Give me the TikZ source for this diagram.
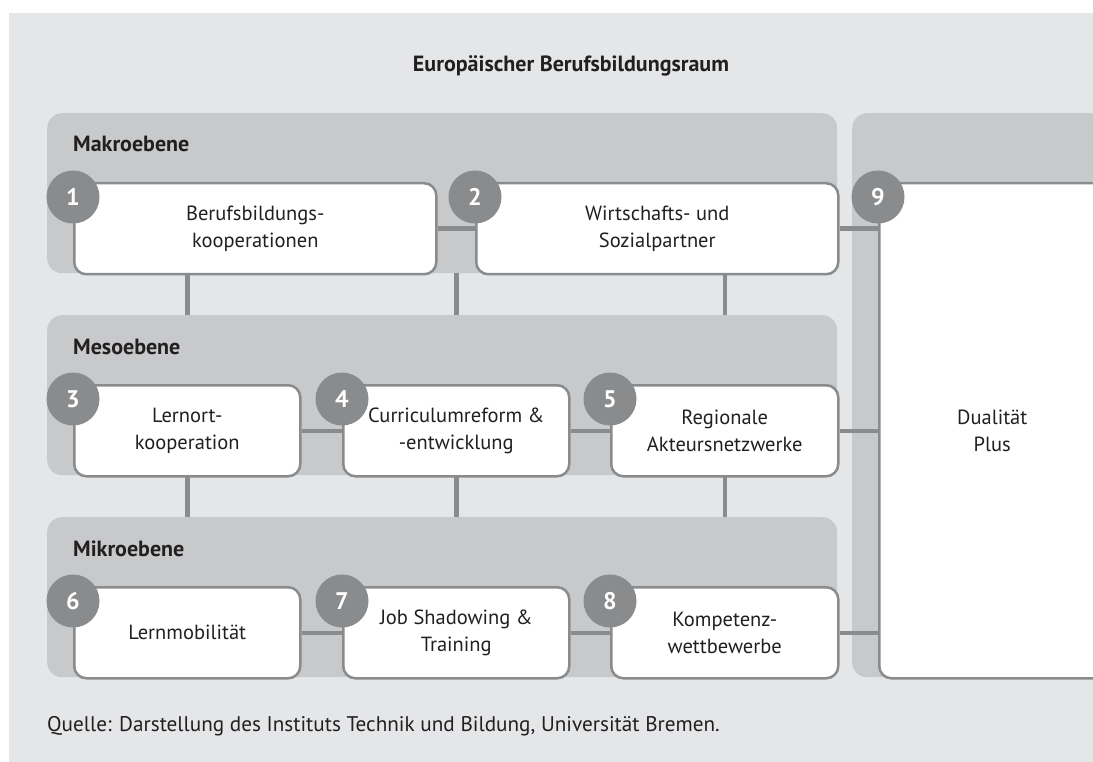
\documentclass[tikz,border=0pt]{standalone}
\usepackage{fontspec}
\setmainfont{PT Sans}
\usepackage{xcolor}
\usepackage{tikz}

\definecolor{panelgray}{HTML}{E5E6E7}
\definecolor{bandgray}{HTML}{C8C9CB}
\definecolor{linegray}{HTML}{8A8B8D}
\definecolor{textblack}{HTML}{231F20}

\begin{document}
\begin{tikzpicture}[x=1pt, y=-1pt,
    band/.style={rectangle, fill=bandgray, rounded corners=15pt, anchor=north west, minimum height=160pt},
    stepbox/.style={rectangle, draw=linegray, line width=2.5pt, fill=white, rounded corners=12pt, anchor=north west, minimum height=91pt, align=center, text=textblack, font=\fontsize{20.5}{27}\selectfont},
    num/.style={circle, fill=linegray, minimum size=53pt, inner sep=0pt, text=white, font=\bfseries\fontsize{24}{24}\selectfont},
    level/.style={anchor=base west, inner sep=0pt, text=textblack, font=\bfseries\fontsize{22}{22}\selectfont},
    link/.style={linegray, line width=4.5pt}]
    \useasboundingbox (0,0) rectangle (1093,762);
    \clip (0,0) rectangle (1093,762);
    \fill[panelgray] (9,13) rectangle (1093,762);

    \node[level, anchor=base] (title) at (571,72) {Europäischer Berufsbildungsraum};

    \node[band, minimum width=790pt] (makro) at (47,113) {};
    \node[band, minimum width=790pt] (meso) at (47,315) {};
    \node[band, minimum width=790pt] (mikro) at (47,517) {};
    \node[band, minimum width=252pt, minimum height=564pt] (dual) at (852,113) {};

    \node[level] (makrolabel) at (73,152) {Makroebene};
    \node[level] (mesolabel) at (73,354) {Mesoebene};
    \node[level] (mikrolabel) at (73,556) {Mikroebene};

    \node[stepbox, minimum width=362pt] (b1) at (73,182) {Berufsbildungs-\\kooperationen};
    \node[stepbox, minimum width=362pt] (b2) at (475,182) {Wirtschafts- und\\Sozialpartner};
    \node[stepbox, minimum width=226pt] (b3) at (73,384) {Lernort-\\kooperation};
    \node[stepbox, minimum width=226pt] (b4) at (342,384) {Curriculumreform \&\\-entwicklung};
    \node[stepbox, minimum width=227pt] (b5) at (610,384) {Regionale\\Akteursnetzwerke};
    \node[stepbox, minimum width=226pt] (b6) at (73,586) {Lernmobilität};
    \node[stepbox, minimum width=226pt] (b7) at (342,586) {Job Shadowing \&\\Training};
    \node[stepbox, minimum width=227pt] (b8) at (610,586) {Kompetenz-\\wettbewerbe};
    \node[stepbox, minimum width=226pt, minimum height=495pt] (b9) at (878,182) {Dualität\\Plus};

    \draw[link] (b1.east) -- (b2.west);
    \draw[link] (b2.east) -- (b2.east -| b9.west);
    \draw[link] (b3.east) -- (b4.west);
    \draw[link] (b4.east) -- (b5.west);
    \draw[link] (b5.east) -- (b5.east -| b9.west);
    \draw[link] (b6.east) -- (b7.west);
    \draw[link] (b7.east) -- (b8.west);
    \draw[link] (b8.east) -- (b8.east -| b9.west);

    \foreach \b in {b3, b4, b5} {
        \draw[link] (\b |- makro.south) -- (\b |- meso.north);
    }
    \foreach \b in {b6, b7, b8} {
        \draw[link] (\b |- meso.south) -- (\b |- mikro.north);
    }

    \foreach \i in {1,...,9} {
        \node[num] (n\i) at ([yshift=-15pt]b\i.north west) {\i};
    }

    \node[anchor=base west, inner sep=0pt, text=textblack, font=\fontsize{21.2}{21.2}\selectfont] (source) at (47,731) {Quelle: Darstellung des Instituts Technik und Bildung, Universität Bremen.};
\end{tikzpicture}
\end{document}
